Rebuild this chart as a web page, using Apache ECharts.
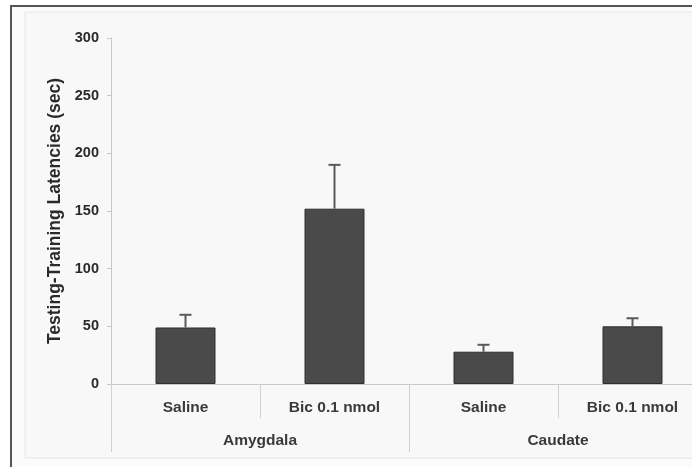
<!DOCTYPE html>
<html>
<head>
<meta charset="utf-8">
<script src="https://cdn.jsdelivr.net/npm/echarts@6/dist/echarts.min.js"></script>
<style>
  html, body { margin: 0; padding: 0; background: #fff; }
  #chart { width: 692px; height: 467px; }
</style>
</head>
<body>
<div id="chart"></div>
<script>
var categories = ['Saline', 'Bic 0.1 nmol', 'Saline', 'Bic 0.1 nmol'];
var groups = ['Amygdala', 'Caudate'];
var means = [49, 152, 28, 50];
var errors = [11, 38, 6, 7];
var yTicks = { min: 0, max: 300, interval: 50 };

var chart = echarts.init(document.getElementById('chart'));
var font = 'Liberation Sans, Arial, sans-serif';

chart.setOption({
    animation: false,
    backgroundColor: '#fff',
    graphic: [
        { type: 'rect', z: -10, shape: { x: 11, y: 6, width: 700, height: 470 },
          style: { fill: '#fbfbfb', stroke: '#555', lineWidth: 2 } },
        { type: 'rect', z: -9, shape: { x: 25, y: 12, width: 680, height: 446 },
          style: { fill: '#f8f8f8', stroke: '#e6e6e6', lineWidth: 1 } }
    ],
    grid: { left: 111, top: 38, width: 596, bottom: 83, outerBoundsMode: 'none', containLabel: false },
    xAxis: [{
        type: 'category',
        data: categories,
        axisLine: { lineStyle: { color: '#c8c8c8', width: 1 } },
        axisTick: { show: true, length: 34, interval: 0, lineStyle: { color: '#d0d0d0' } },
        axisLabel: { interval: 0, margin: 16, color: '#3a3a3a', fontFamily: font,
                     fontWeight: 'bold', fontSize: 15.5 }
    }, {
        type: 'category',
        position: 'bottom',
        data: groups,
        axisLine: { show: false },
        axisTick: { show: true, length: 68, interval: 0, lineStyle: { color: '#d0d0d0' } },
        axisLabel: { interval: 0, margin: 49, color: '#3a3a3a', fontFamily: font,
                     fontWeight: 'bold', fontSize: 15.5 }
    }],
    yAxis: {
        type: 'value',
        min: yTicks.min, max: yTicks.max, interval: yTicks.interval,
        name: 'Testing-Training Latencies (sec)',
        nameLocation: 'middle',
        nameGap: 47,
        nameTextStyle: { color: '#2a2a2a', fontFamily: font, fontWeight: 'bold', fontSize: 17.5 },
        axisLine: { show: true, lineStyle: { color: '#c8c8c8' } },
        axisTick: { show: true, length: 4, lineStyle: { color: '#c8c8c8' } },
        splitLine: { show: false },
        axisLabel: { color: '#2a2a2a', fontFamily: font, fontWeight: 'bold', fontSize: 14.5, margin: 12 }
    },
    series: [{
        type: 'bar',
        data: means,
        barWidth: 60,
        itemStyle: { color: '#4a4a4a', borderColor: '#2e2e2e', borderWidth: 1 }
    }, {
        type: 'custom',
        data: means.map(function (m, i) { return [i, m, m + errors[i]]; }),
        renderItem: function (params, api) {
            var lo = api.coord([api.value(0), api.value(1)]);
            var hi = api.coord([api.value(0), api.value(2)]);
            var cap = 6;
            var st = { stroke: '#5a5a5a', lineWidth: 2 };
            return {
                type: 'group',
                children: [
                    { type: 'line', shape: { x1: lo[0], y1: lo[1], x2: hi[0], y2: hi[1] }, style: st },
                    { type: 'line', shape: { x1: hi[0] - cap, y1: hi[1], x2: hi[0] + cap, y2: hi[1] }, style: st }
                ]
            };
        },
        z: 3
    }]
});
</script>
</body>
</html>
